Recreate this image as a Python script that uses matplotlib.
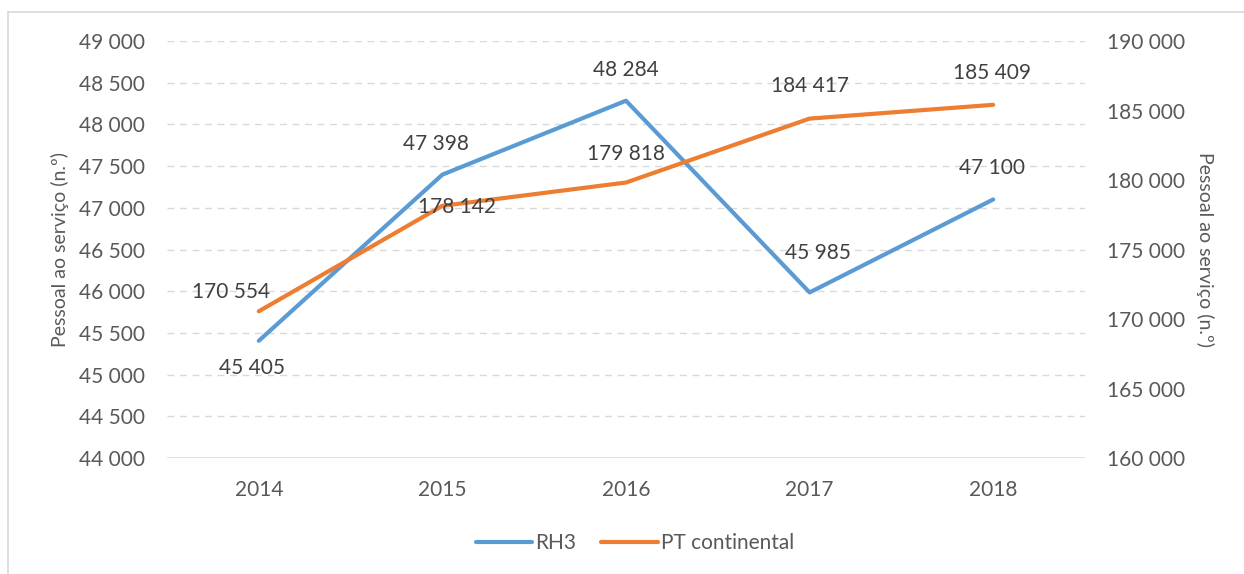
import matplotlib.pyplot as plt
from matplotlib.lines import Line2D
from matplotlib.ticker import FuncFormatter

# Données
anos = ['2014', '2015', '2016', '2017', '2018']
rh3 = [45405, 47398, 48284, 45985, 47100]
pt_continental = [170554, 178142, 179818, 184417, 185409]

# décalages des étiquettes (pixels)
off_rh3 = [(-7, -27), (-6, 31), (0, 31), (8, 39), (-1, 31)]
off_pt = [(-28, 19), (15, -1), (0, 29), (0, 33), (-1, 32)]

cinza = '#595959'
azul = '#5B9BD5'
laranja = '#ED7D31'

fs = 15
plt.rcParams['font.family'] = ['Lato', 'DejaVu Sans']
plt.rcParams['font.size'] = fs


def fmt(v, pos=None):
    return f'{int(v):,}'.replace(',', ' ')


fig = plt.figure(figsize=(12.44, 5.74), dpi=100)
ax = fig.add_axes([167 / 1244, 1 - 458 / 574, (1085 - 167) / 1244, (458 - 41) / 574])
ax2 = ax.twinx()

x = list(range(len(anos)))
l1, = ax.plot(x, rh3, color=azul, lw=3, solid_capstyle='round', zorder=3)
l2, = ax2.plot(x, pt_continental, color=laranja, lw=3, solid_capstyle='round', zorder=3)

ax.set_ylim(44000, 49000)
ax.set_yticks(range(44000, 49001, 500))
ax2.set_ylim(160000, 190000)
ax2.set_yticks(range(160000, 190001, 5000))
ax.set_xlim(-0.5, len(anos) - 0.5)
ax.set_xticks(x)
ax.set_xticklabels(anos)
ax.yaxis.set_major_formatter(FuncFormatter(fmt))
ax2.yaxis.set_major_formatter(FuncFormatter(fmt))

# grille
for v in range(44500, 49001, 500):
    ax.axhline(v, color='#D9D9D9', lw=1, ls=(0, (5, 4)), zorder=0)
ax.axhline(44000, color='#D9D9D9', lw=1.2, zorder=1)

for a in (ax, ax2):
    for s in a.spines.values():
        s.set_visible(False)
    a.tick_params(length=0, colors=cinza, labelsize=fs)
ax.tick_params(axis='y', pad=16)
ax2.tick_params(axis='y', pad=16)
ax.tick_params(axis='x', pad=16)

ax.set_ylabel('Pessoal ao serviço (n.º)', color=cinza, fontsize=14, labelpad=7)
ax2.set_ylabel('Pessoal ao serviço (n.º)', color=cinza, fontsize=14, rotation=270, labelpad=21)

# étiquettes de données
for i, v in enumerate(rh3):
    ax.annotate(fmt(v), (i, v), xytext=off_rh3[i], textcoords='offset pixels',
                ha='center', va='center', color='#404040', fontsize=fs)
for i, v in enumerate(pt_continental):
    ax2.annotate(fmt(v), (i, v), xytext=off_pt[i], textcoords='offset pixels',
                 ha='center', va='center', color='#404040', fontsize=fs)

fig.legend([l1, l2], ['RH3', 'PT continental'], loc='center', bbox_to_anchor=(0.5105, 1 - 543 / 574),
           ncol=2, frameon=False, fontsize=fs, labelcolor=cinza, handlelength=2.7,
           handletextpad=0.15, columnspacing=1.2)

# cadre
fig.add_artist(Line2D([8 / 1244, 8 / 1244], [0, 1 - 12 / 574], color='#D9D9D9', lw=1.2,
                      transform=fig.transFigure))
fig.add_artist(Line2D([8 / 1244, 1], [1 - 12 / 574, 1 - 12 / 574], color='#D9D9D9', lw=1.2,
                      transform=fig.transFigure))

fig.savefig('out.png', dpi=100)
